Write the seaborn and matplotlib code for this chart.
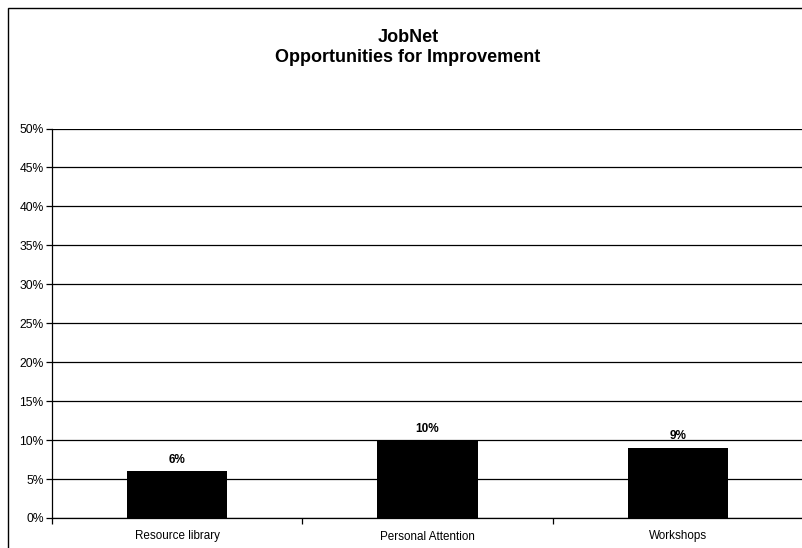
import matplotlib
matplotlib.use("Agg")
import matplotlib.pyplot as plt
from matplotlib.patches import Rectangle
from matplotlib.ticker import FixedLocator, FuncFormatter
import seaborn as sns
import pandas as pd

# Survey results: share of respondents naming each area
categories = ["Resource library", "Personal Attention", "Workshops"]
values = [0.06, 0.10, 0.09]
value_labels = ["6%", "10%", "9%"]
y_ticks = [0.0, 0.05, 0.10, 0.15, 0.20, 0.25, 0.30, 0.35, 0.40, 0.45, 0.50]

sns.set_style("white")
plt.rcParams["font.family"] = ["Liberation Sans", "DejaVu Sans"]
plt.rcParams["text.color"] = "black"
plt.rcParams["xtick.color"] = "black"
plt.rcParams["ytick.color"] = "black"

df = pd.DataFrame({"category": categories, "share": values})

fig = plt.figure(figsize=(8.02, 5.48), dpi=100)
ax = fig.add_axes([52 / 802, 1 - 518 / 548, (803 - 52) / 802, (518 - 128.5) / 548])

# Horizontal gridlines behind the bars
for y in y_ticks:
    ax.axhline(y, color="black", linewidth=0.9, zorder=0)

sns.barplot(data=df, x="category", y="share", color="black", width=0.40,
            saturation=1, edgecolor="black", linewidth=0, ax=ax, zorder=2)

ax.set_xlim(-0.5, 2.5)
ax.set_ylim(0, 0.5)
ax.set_xlabel("")
ax.set_ylabel("")

ax.yaxis.set_major_locator(FixedLocator(y_ticks))
ax.yaxis.set_major_formatter(FuncFormatter(lambda v, _: f"{round(v * 100)}%"))
ax.tick_params(axis="y", direction="out", length=4, width=0.9, color="black",
               labelsize=8.7, labelcolor="black", pad=2, left=True)

# Category labels at bar centres, tick marks on category boundaries
ax.tick_params(axis="x", which="major", length=0, labelsize=8.4,
               labelcolor="black", pad=9)
ax.set_xticks([-0.5, 0.5, 1.5, 2.5], minor=True)
ax.tick_params(axis="x", which="minor", direction="out", length=4, width=0.9,
               color="black", bottom=True)

for side in ("top", "right"):
    ax.spines[side].set_visible(False)
for side in ("left", "bottom"):
    ax.spines[side].set_color("black")
    ax.spines[side].set_linewidth(0.9)

# Value labels above each bar
for i, (v, lab) in enumerate(zip(values, value_labels)):
    ax.annotate(lab, (i, v), xytext=(0, 4), textcoords="offset points",
                ha="center", va="bottom", fontsize=8.5, fontweight="bold",
                color="black")

fig.text(408 / 802, 1 - 37 / 548, "JobNet", ha="center", va="center",
         fontsize=13, fontweight="bold", color="black")
fig.text(408 / 802, 1 - 57 / 548, "Opportunities for Improvement",
         ha="center", va="center", fontsize=13, fontweight="bold", color="black")

# Chart frame
fig.patches.append(Rectangle((7.5 / 802, -0.05), 1.0, 1 - 7.5 / 548 + 0.05,
                             transform=fig.transFigure, fill=False,
                             edgecolor="black", linewidth=1.0))

fig.savefig("out.png", dpi=100)
